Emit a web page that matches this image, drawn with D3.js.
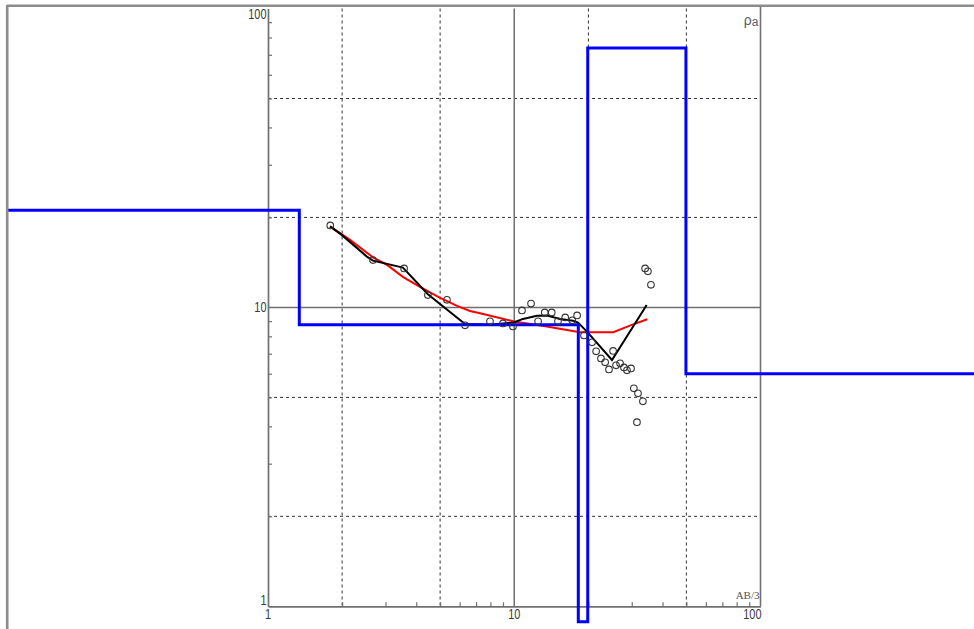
<!DOCTYPE html>
<html><head><meta charset="utf-8">
<script src="https://cdn.jsdelivr.net/npm/d3@7"></script>
<style>html,body{margin:0;padding:0;background:#fff;overflow:hidden;} svg{display:block;}</style>
</head><body>
<svg id="c" width="974" height="629"></svg>
<script>
// ---- data ----
const axisLabels = [1, 10, 100];
const minorTicks = [2,3,4,5,6,7,8,9,20,30,40,50,60,70,80,90];
const dashedGrid = [2, 5, 20, 50];
const solidGrid = [10];

// layered model (blue step curve): start of each layer and its resistivity
const modelAB  = [0.08, 1.34, 18.2, 19.88, 49.8, 1000];
const modelRho = [21.15, 8.75, 0.888, 73.8, 6.0, 6.0];

// measured apparent resistivity (circles)
const fieldAB  = [1.79,2.67,3.57,4.46,5.33,6.31,7.97,9.0,9.88,10.75,11.7,12.5,13.3,14.2,15.05,16.1,17.2,18.0,19.2,20.7,21.5,22.5,23.4,24.25,25.2,25.9,26.9,27.9,28.7,29.8,30.6,31.8,33.3,31.5,34.0,34.9,35.9];
const fieldRho = [18.8,14.4,13.5,11.0,10.6,8.71,8.98,8.84,8.64,9.77,10.3,8.98,9.62,9.62,8.98,9.26,9.05,9.40,8.06,7.64,7.13,6.75,6.55,6.20,7.15,6.40,6.50,6.30,6.16,6.25,5.36,5.16,4.85,4.13,13.5,13.2,11.9];

// smoothed field curve (black)
const smoothAB  = [1.786,1.992,2.52,2.67,3.53,4.46,6.31,7.97,9.95,10.85,12.37,13.58,15.34,17.32,18.15,19.74,24.94,34.5];
const smoothRho = [18.66,17.48,14.79,14.34,13.59,11.07,8.80,8.75,8.90,9.15,9.37,9.39,9.15,9.03,8.90,8.30,6.67,10.19];

// computed model response (red)
const calcAB  = [1.786,2.153,2.67,3.043,3.53,4.14,5.0,5.86,6.61,7.26,10.0,13.55,18.49,25.25,30.0,34.7];
const calcRho = [18.66,16.82,14.7,13.87,12.65,11.71,10.76,10.12,9.73,9.56,8.97,8.63,8.26,8.26,8.74,9.13];

// ---- drawing ----
const svg = d3.select("#c");
const W = 974, H = 629;
const x = d3.scaleLog().domain([1, 100]).range([268, 760.5]);
const y = d3.scaleLog().domain([1, 100]).range([606.3, 8.5]);
const frameColor = "#8c8c8c", axisColor = "#707070", textColor = "#3a3a3a";

// gridlines
const grid = svg.append("g");
grid.selectAll(".gvd").data(dashedGrid).join("line")
  .attr("x1", d => x(d)).attr("x2", d => x(d)).attr("y1", y(100)).attr("y2", y(1))
  .attr("stroke", "#333").attr("stroke-width", 1).attr("stroke-dasharray", "3,3");
grid.selectAll(".ghd").data(dashedGrid).join("line")
  .attr("y1", d => y(d)).attr("y2", d => y(d)).attr("x1", x(1)).attr("x2", x(100))
  .attr("stroke", "#333").attr("stroke-width", 1).attr("stroke-dasharray", "3,3");
grid.selectAll(".gvs").data(solidGrid).join("line")
  .attr("x1", d => x(d)).attr("x2", d => x(d)).attr("y1", y(100)).attr("y2", y(1))
  .attr("stroke", "#707070").attr("stroke-width", 1.5);
grid.selectAll(".ghs").data(solidGrid).join("line")
  .attr("y1", d => y(d)).attr("y2", d => y(d)).attr("x1", x(1)).attr("x2", x(100))
  .attr("stroke", "#707070").attr("stroke-width", 1.5);

// right border of plot
svg.append("line").attr("x1", x(100)).attr("x2", x(100)).attr("y1", 6).attr("y2", y(1))
  .attr("stroke", axisColor).attr("stroke-width", 1.6);

// axes
const xAxis = svg.append("g").attr("transform", `translate(0,${y(1)})`)
  .call(d3.axisBottom(x).tickValues(minorTicks).tickSize(-4).tickSizeOuter(0).tickFormat(""));
const yAxis = svg.append("g").attr("transform", `translate(${x(1)},0)`)
  .call(d3.axisLeft(y).tickValues(minorTicks).tickSize(-4).tickSizeOuter(0).tickFormat(""));
[xAxis, yAxis].forEach(a => {
  a.select(".domain").attr("stroke", axisColor).attr("stroke-width", 1.7);
  a.selectAll(".tick line").attr("stroke", axisColor).attr("stroke-width", 1.2);
});

// tick labels (condensed look)
const sx = 0.78;
function lbl(px, py, t, anchor) {
  svg.append("text").attr("transform", `translate(${px},${py}) scale(${sx},1)`)
    .attr("text-anchor", anchor).attr("font-family", "Liberation Sans, Arial, sans-serif")
    .attr("font-size", 14).attr("fill", textColor).text(t);
}
axisLabels.forEach((v, i) => {
  const anchor = i === 2 ? "end" : "middle";
  const px = i === 2 ? x(v) + 1 : x(v);
  lbl(px, y(1) + 13, String(v), anchor);
});
axisLabels.forEach((v, i) => {
  let py = i === 0 ? y(v) - 1.3 : (i === 1 ? y(v) + 5 : y(v) + 10);
  lbl(x(1) - 1.5, py, String(v), "end");
});

// corner labels
const rl = svg.append("text").attr("x", x(100) - 2).attr("y", 24.5).attr("text-anchor", "end")
  .attr("font-family", "Liberation Sans, Arial, sans-serif").attr("font-size", 14).attr("fill", "#5a5a6a");
rl.append("tspan").text("ρ");
rl.append("tspan").attr("font-size", 12).attr("dy", 1).text("a");
svg.append("text").attr("x", x(100) - 1).attr("y", y(1) - 7.5).attr("text-anchor", "end")
  .attr("font-family", "Liberation Serif, Times New Roman, serif").attr("font-size", 11)
  .attr("fill", "#555").text("AB/3");

// clip for curves extending beyond the plot
svg.append("clipPath").attr("id", "frameClip").append("rect")
  .attr("x", 8).attr("y", 6).attr("width", W - 8).attr("height", H - 6);

// red computed curve
const redData = calcAB.map((a, i) => [a, calcRho[i]]);
svg.append("path").datum(redData)
  .attr("d", d3.line().x(d => x(d[0])).y(d => y(d[1])).curve(d3.curveLinear))
  .attr("fill", "none").attr("stroke", "#ff0000").attr("stroke-width", 2);

// black smoothed curve
const blackData = smoothAB.map((a, i) => [a, smoothRho[i]]);
svg.append("path").datum(blackData)
  .attr("d", d3.line().x(d => x(d[0])).y(d => y(d[1])))
  .attr("fill", "none").attr("stroke", "#000").attr("stroke-width", 2);

// blue layered model
const blueData = modelAB.map((a, i) => [a, modelRho[i]]);
svg.append("path").datum(blueData).attr("clip-path", "url(#frameClip)")
  .attr("d", d3.line().x(d => x(d[0])).y(d => y(d[1])).curve(d3.curveStepAfter))
  .attr("fill", "none").attr("stroke", "#0000ff").attr("stroke-width", 3);

// circles
svg.append("g").selectAll("circle").data(fieldAB.map((a, i) => [a, fieldRho[i]])).join("circle")
  .attr("cx", d => x(d[0])).attr("cy", d => y(d[1])).attr("r", 3.3)
  .attr("fill", "none").attr("stroke", "#333").attr("stroke-width", 1.1);

// outer frame lines (top and left)
svg.append("line").attr("x1", 7).attr("x2", W).attr("y1", 5.8).attr("y2", 5.8)
  .attr("stroke", frameColor).attr("stroke-width", 2.4);
svg.append("line").attr("x1", 7.2).attr("x2", 7.2).attr("y1", 5).attr("y2", H)
  .attr("stroke", frameColor).attr("stroke-width", 2.6);
</script>
</body></html>
